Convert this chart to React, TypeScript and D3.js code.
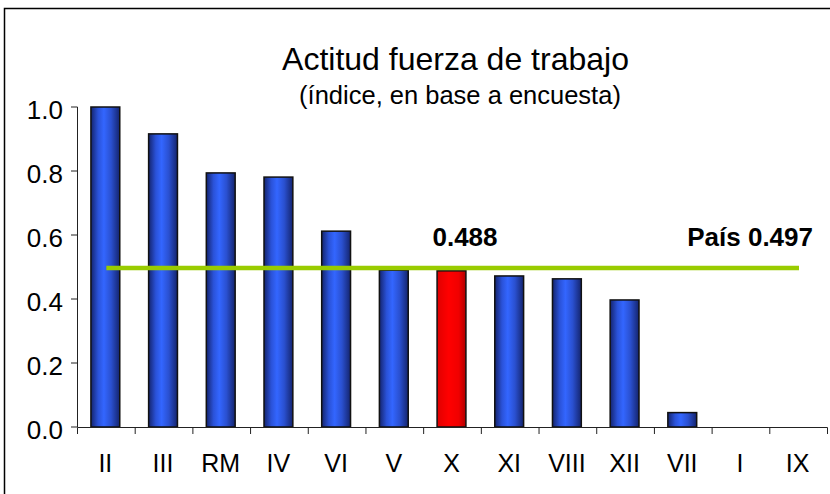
import React from "react";
import * as d3 from "d3";

const categories = ["II", "III", "RM", "IV", "VI", "V", "X", "XI", "VIII", "XII", "VII", "I", "IX"];
const values = [1.0, 0.916, 0.794, 0.781, 0.612, 0.49, 0.488, 0.472, 0.463, 0.397, 0.045, 0, 0];
const highlight = "X";
const countryValue = 0.497;
const yTicks = [0, 0.2, 0.4, 0.6, 0.8, 1.0];

export default function App() {
  const W = 830, H = 494;
  const x = d3.scaleBand<string>().domain(categories).range([77.5, 827.5]).paddingInner(0.5).paddingOuter(0.25);
  const y = d3.scaleLinear().domain([0, 1]).range([427, 107]);
  const step = x.step();
  const font = "Liberation Sans, Arial, sans-serif";
  const lineX1 = (x("II") ?? 0) + x.bandwidth() / 2;
  const lineX2 = 799;
  return (
    <svg width={W} height={H} style={{ position: "absolute", left: 0, top: 0 }}>
      <defs>
        <linearGradient id="blueG" x1="0" x2="1" y1="0" y2="0">
          <stop offset="0" stopColor="#14246e" />
          <stop offset="0.25" stopColor="#2a52d8" />
          <stop offset="0.45" stopColor="#3366ff" />
          <stop offset="0.7" stopColor="#2a50d0" />
          <stop offset="1" stopColor="#14246e" />
        </linearGradient>
        <linearGradient id="redG" x1="0" x2="1" y1="0" y2="0">
          <stop offset="0" stopColor="#e00000" />
          <stop offset="0.4" stopColor="#ff0000" />
          <stop offset="0.75" stopColor="#f00000" />
          <stop offset="1" stopColor="#b00000" />
        </linearGradient>
      </defs>
      <rect x={0} y={0} width={W} height={H} fill="#fff" />
      <rect x={4.5} y={8.5} width={W + 10} height={H + 10} fill="none" stroke="#000" strokeWidth={1.5} />
      <text x={455.5} y={70} textAnchor="middle" fontFamily={font} fontSize={32} fill="#000">Actitud fuerza de trabajo</text>
      <text x={460} y={104} textAnchor="middle" fontFamily={font} fontSize={25.5} fill="#000">(índice, en base a encuesta)</text>
      {/* y axis */}
      <line x1={77.5} x2={77.5} y1={107} y2={427} stroke="#222" strokeWidth={1} />
      {yTicks.map((t) => (
        <g key={t}>
          <line x1={71} x2={77.5} y1={y(t)} y2={y(t)} stroke="#222" />
          <text x={63} y={y(t) + 12} textAnchor="end" fontFamily={font} fontSize={26} fill="#000">{t.toFixed(1)}</text>
        </g>
      ))}
      {/* bars */}
      {categories.map((c, i) => {
        const v = values[i];
        if (v <= 0) return null;
        return (
          <rect key={c} x={(x(c) ?? 0) - 1} y={y(v)} width={x.bandwidth()} height={y(0) - y(v)}
            fill={c === highlight ? "url(#redG)" : "url(#blueG)"} stroke="#111" strokeWidth={1.5} />
        );
      })}
      {/* x axis */}
      <line x1={77.5} x2={827.5} y1={427.5} y2={427.5} stroke="#222" />
      {d3.range(categories.length + 1).map((i) => (
        <line key={i} x1={77.5 + i * step} x2={77.5 + i * step} y1={427.5} y2={434} stroke="#222" />
      ))}
      {categories.map((c) => (
        <text key={c} x={(x(c) ?? 0) + x.bandwidth() / 2 - 1} y={472} textAnchor="middle" fontFamily={font} fontSize={25} fill="#000">{c}</text>
      ))}
      {/* country line */}
      <line x1={lineX1} x2={lineX2} y1={y(countryValue)} y2={y(countryValue)} stroke="#99cc00" strokeWidth={4.5} />
      <text x={465} y={246} textAnchor="middle" fontFamily={font} fontSize={26} fontWeight="bold" fill="#000">0.488</text>
      <text x={813} y={246} textAnchor="end" fontFamily={font} fontSize={26} fontWeight="bold" fill="#000">País 0.497</text>
    </svg>
  );
}
